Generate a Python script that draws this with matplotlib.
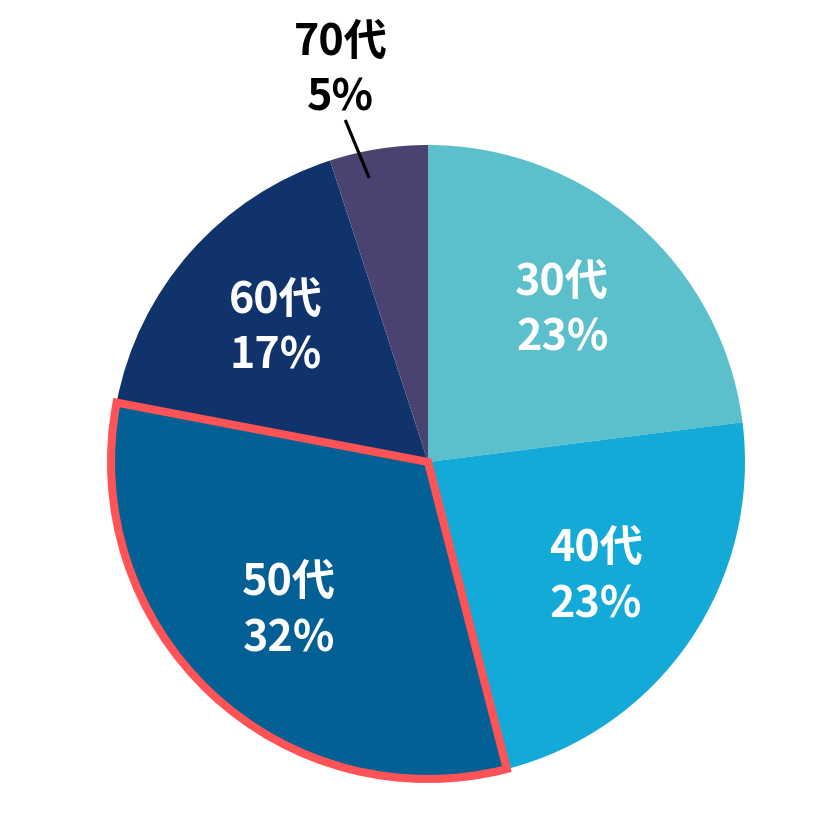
import numpy as np
import matplotlib
matplotlib.use("Agg")
import matplotlib.pyplot as plt

plt.rcParams['font.family'] = ['Noto Sans CJK JP', 'DejaVu Sans']

labels = ["30代", "40代", "50代", "60代", "70代"]
values = [23, 23, 32, 17, 5]
colors = ["#5BC0CC", "#13AAD7", "#036094", "#11336B", "#4A4371"]
highlight = "50代"

fig = plt.figure(figsize=(8.4, 8.4), dpi=100)
ax = fig.add_axes([0, 0, 1, 1])
ax.axis("off")

wedges, _ = ax.pie(values, colors=colors, startangle=90, counterclock=False,
                   radius=1.0, wedgeprops=dict(linewidth=0))


def polar(r, deg):
    a = np.deg2rad(deg)
    return r * np.cos(a), r * np.sin(a)


for w, lab, v in zip(wedges, labels, values):
    mid = (w.theta1 + w.theta2) / 2
    txt = f"{lab}\n{v}%"
    if lab == highlight:
        w.set_edgecolor("#FF5356")
        w.set_linewidth(5.8)
        w.set_joinstyle("miter")
        w.set_zorder(5)
    if v < 10:
        # small slice: label outside with a leader line
        x1, y1 = polar(0.915, mid + 2.7)
        x2, y2 = polar(1.11, mid + 4.6)
        ax.plot([x1, x2], [y1, y2], color="black", lw=2.3, solid_capstyle="butt")
        tx, ty = polar(1.268, mid + 3.6)
        ax.text(tx, ty, txt, ha="center", va="center", fontsize=31,
                fontweight="bold", color="black", linespacing=1.35)
    else:
        tx, ty = polar(0.64, mid)
        ax.text(tx, ty, txt, ha="center", va="center", fontsize=31,
                fontweight="bold", color="white", linespacing=1.35, zorder=10)

ax.set_xlim(-428 / 317, 412 / 317)
ax.set_ylim(-378 / 317, 462 / 317)
ax.set_aspect("auto")

fig.savefig("out.png", dpi=100)
